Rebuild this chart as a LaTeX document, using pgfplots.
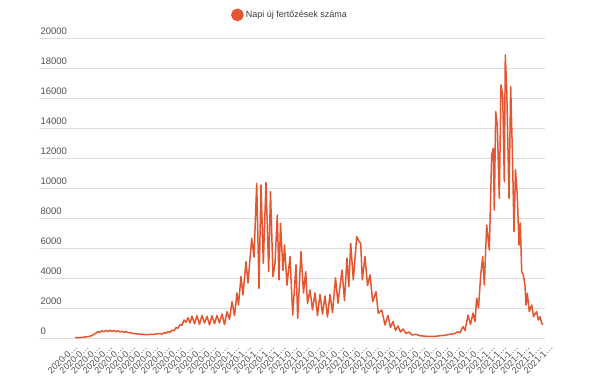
\documentclass[border=0pt]{standalone}
\usepackage{fontspec}
\setmainfont{Liberation Sans}
\usepackage{pgfplots}
\usepackage{pgfplotstable}
\pgfplotsset{compat=1.18}
\definecolor{seriescol}{RGB}{226,87,47}
\definecolor{labgray}{RGB}{80,80,80}
\definecolor{leggray}{RGB}{60,60,60}
\definecolor{gridgray}{RGB}{222,222,222}

\pgfplotstableread{
x y
75 20
80 30
85 60
90 120
93 200
96 330
98 420
100 380
102 480
104 420
106 500
108 430
110 520
112 440
114 500
116 420
118 480
120 400
122 450
124 380
126 420
128 350
130 360
133 300
136 280
139 260
142 240
145 230
148 220
151 250
154 240
157 280
160 300
162 260
164 350
166 320
168 420
170 380
172 520
174 480
176 700
178 650
180 900
182 850
184 1200
186 1050
188 1350
190 1000
192 1450
194.5 950
197 1480
199.5 920
202 1500
204.5 1000
207 1450
209.5 880
212 1480
214.5 950
217 1500
219.5 1000
222 1600
224.5 900
227 1750
229.5 1250
232 2420
234.5 1500
237 3000
238.5 2200
241 4090
243 2870
246 5090
248 3670
251.7 6640
254 5400
256.7 10310
259 3310
261 10200
263.3 4980
266 10360
268.7 4420
270.5 9760
273 4090
275 5000
277.3 8200
279 3870
280.5 7640
283 4500
284.5 6200
287 3530
290 5420
292.7 1530
296 4870
297.7 1310
301 5760
303.5 3000
305.7 4420
307.5 2310
310 3200
312.5 1870
315 3000
317.5 1500
320 2900
322.5 1600
325 2800
327.5 1400
330 2900
332.5 1700
335.5 4000
338 2330
342 4530
344.5 2500
347 5330
348.8 3420
350.7 6310
353.3 3870
356.7 6760
358.5 6500
360.7 6310
362.3 3870
365 5420
367.5 3500
370 4200
372.7 2420
376 3090
378.3 1640
381.7 1870
385 870
388 1500
390.5 700
393 1100
395.5 500
398 800
400.5 400
403 600
406 300
409 400
412 200
416 250
420 150
425 120
430 100
435 110
440 150
445 180
450 250
455 300
458 420
460 350
463 760
465 500
468 1530
470.5 900
473 1660
475 1090
476.7 2660
478.5 2000
480.7 4200
482.7 5420
484.3 3530
486.7 7530
489.3 5870
491.7 12200
493.3 12640
494.3 8530
495.7 15090
497.3 14200
499.3 9310
501 16870
502.7 16200
504.3 10420
505.3 18870
506.7 16670
509 9310
510.7 16760
512.5 12000
514 7090
515.5 11200
517.3 9500
519 6200
520.3 7670
521.7 4420
523.3 4200
525 3500
526 2200
527.3 2980
529.3 1760
531.7 2200
533.5 1420
535 1600
536.7 1760
538.3 1200
540 1420
541.7 980
543 900
}\dailydata

\begin{document}
\begin{tikzpicture}
\useasboundingbox (-40pt,-47pt) rectangle (565pt,338pt);
\begin{axis}[
  at={(0pt,0pt)}, anchor=south west,
  scale only axis,
  width=505pt, height=300pt,
  xmin=40, xmax=545,
  ymin=0, ymax=20000,
  axis line style={draw=none},
  major tick length=0pt,
  ytick={0,2000,...,20000},
  scaled y ticks=false,
  /pgf/number format/assume math mode=true,
  /pgf/number format/1000 sep={},
  yticklabel style={anchor=south west, xshift=-3pt, yshift=-0.5pt,
    font=\fontsize{9.5}{11}\selectfont, text=labgray},
  ymajorgrids,
  grid style={draw=gridgray, line width=0.8pt},
  xtick={68.0,79.6,91.2,102.8,114.4,126.0,137.6,149.2,160.8,172.4,184.0,195.6,207.2,218.8,230.4,242.0,253.6,265.2,276.8,288.4,300.0,311.6,323.2,334.8,346.4,358.0,369.6,381.2,392.8,404.4,416.0,427.6,439.2,450.8,462.4,474.0,485.6,497.2,508.8,520.4,532.0,543.6},
  xticklabels={2020-0…,2020-0…,2020-0…,2020-0…,2020-0…,2020-0…,2020-0…,2020-0…,2020-0…,2020-0…,2020-0…,2020-0…,2020-0…,2020-0…,2020-1…,2020-1…,2020-1…,2020-1…,2020-1…,2021-0…,2021-0…,2021-0…,2021-0…,2021-0…,2021-0…,2021-0…,2021-0…,2021-0…,2021-0…,2021-0…,2021-0…,2021-0…,2021-0…,2021-0…,2021-0…,2021-0…,2021-1…,2021-1…,2021-1…,2021-1…,2021-1…,2021-1…},
  xticklabel style={rotate=45, anchor=east, inner sep=0pt, yshift=-11pt,
    font=\fontsize{9}{10}\selectfont, text=labgray},
  legend style={at={(0.495,1.077)}, anchor=center, draw=none, fill=none,
    font=\fontsize{9}{11}\selectfont, text=leggray,
    /tikz/every even column/.append style={column sep=0pt}},
  legend image code/.code={\fill[seriescol] (0.3cm,0pt) circle (5.6pt);},
  clip=false,
]
\addplot[color=seriescol, line width=1.5pt, line join=round, no markers] table[x=x,y=y] {\dailydata};
\addlegendentry{Napi új fertőzések száma}
\end{axis}
\end{tikzpicture}
\end{document}
